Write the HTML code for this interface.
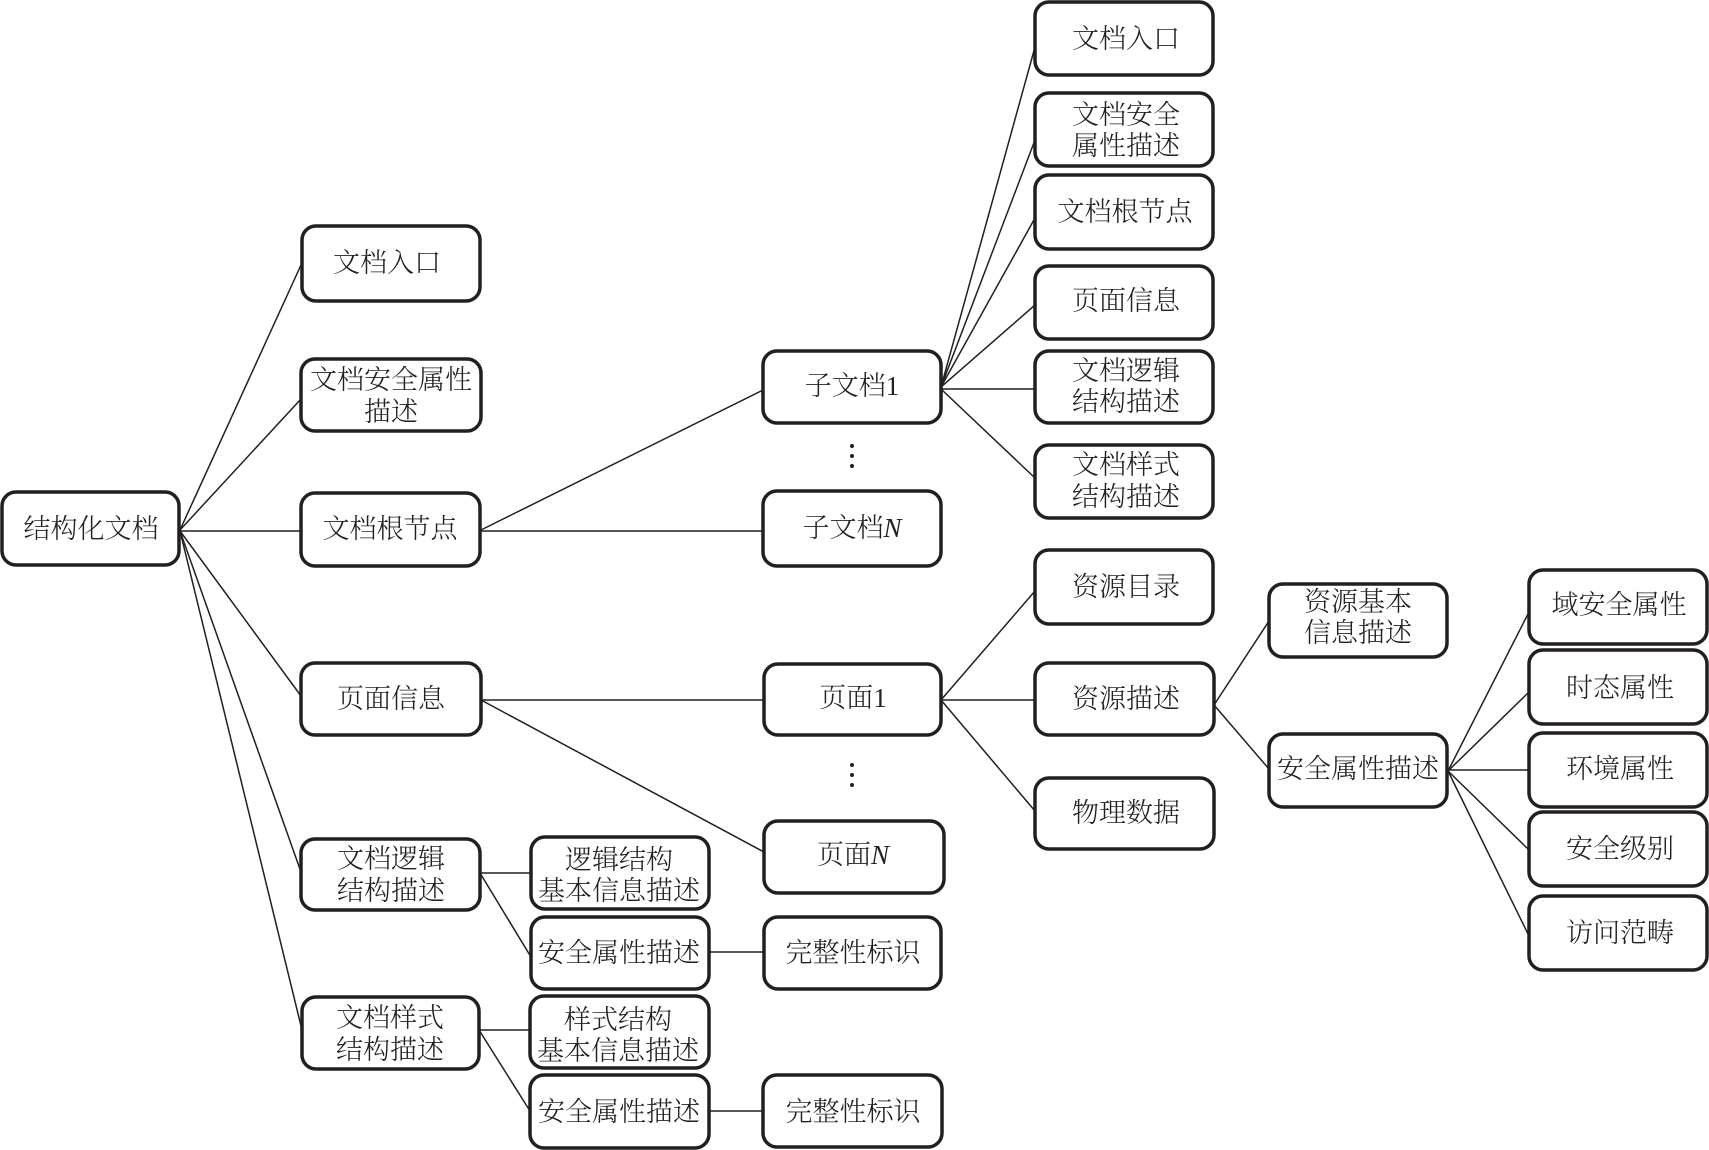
<!DOCTYPE html>
<html lang="zh">
<head>
<meta charset="utf-8">
<title>结构化文档</title>
<style>
html,body{margin:0;padding:0;background:#fff;width:1709px;height:1150px;overflow:hidden}
svg{display:block}
rect{fill:#fff;stroke:#231f20;stroke-width:3.5}
line{stroke:#231f20;stroke-width:1.5}
text{font-family:"Liberation Serif","Noto Serif CJK SC",serif;font-size:27px;font-weight:300;fill:#231f20;text-anchor:middle}
circle{fill:#231f20}
</style>
</head>
<body>
<svg width="1709" height="1150" viewBox="0 0 1709 1150" xmlns="http://www.w3.org/2000/svg">
<g>
<line x1="180" y1="530" x2="301" y2="265"/>
<line x1="180" y1="530" x2="301" y2="399"/>
<line x1="180" y1="531" x2="301" y2="531"/>
<line x1="180" y1="531" x2="301" y2="696"/>
<line x1="180" y1="531" x2="301" y2="872"/>
<line x1="180" y1="531" x2="302" y2="1030"/>
<line x1="481" y1="530" x2="763" y2="390"/>
<line x1="481" y1="531" x2="763" y2="531"/>
<line x1="481" y1="700" x2="764" y2="700"/>
<line x1="481" y1="700" x2="764" y2="852"/>
<line x1="941" y1="387" x2="1035" y2="47"/>
<line x1="941" y1="387" x2="1035" y2="140"/>
<line x1="941" y1="387" x2="1035" y2="218"/>
<line x1="941" y1="387" x2="1035" y2="305"/>
<line x1="941" y1="389" x2="1035" y2="389"/>
<line x1="941" y1="389" x2="1035" y2="478"/>
<line x1="941" y1="700" x2="1035" y2="591"/>
<line x1="941" y1="700" x2="1035" y2="700"/>
<line x1="941" y1="700" x2="1035" y2="811"/>
<line x1="1214" y1="705" x2="1269" y2="621"/>
<line x1="1214" y1="705" x2="1269" y2="769"/>
<line x1="1448" y1="771" x2="1529" y2="612"/>
<line x1="1448" y1="771" x2="1529" y2="692"/>
<line x1="1448" y1="770" x2="1529" y2="770"/>
<line x1="1448" y1="771" x2="1529" y2="850"/>
<line x1="1448" y1="771" x2="1529" y2="936"/>
<line x1="480" y1="873" x2="531" y2="873"/>
<line x1="480" y1="873" x2="531" y2="957"/>
<line x1="479" y1="1030" x2="530" y2="1030"/>
<line x1="479" y1="1030" x2="530" y2="1111"/>
<line x1="709" y1="952" x2="764" y2="952"/>
<line x1="709" y1="1111" x2="763" y2="1111"/>
</g>
<g>
<rect x="2" y="492" width="177" height="73" rx="14"/>
<rect x="302" y="226" width="178" height="75" rx="14"/>
<rect x="301" y="359" width="180" height="72" rx="14"/>
<rect x="301" y="493" width="179" height="73" rx="14"/>
<rect x="301" y="663" width="180" height="72" rx="14"/>
<rect x="301" y="839" width="179" height="71" rx="14"/>
<rect x="302" y="997" width="177" height="72" rx="14"/>
<rect x="531" y="837" width="178" height="72" rx="14"/>
<rect x="531" y="917" width="178" height="72" rx="14"/>
<rect x="764" y="917" width="177" height="72" rx="14"/>
<rect x="530" y="996" width="179" height="72" rx="14"/>
<rect x="530" y="1075" width="179" height="73" rx="14"/>
<rect x="763" y="1075" width="179" height="72" rx="14"/>
<rect x="763" y="351" width="178" height="72" rx="14"/>
<rect x="763" y="491" width="178" height="75" rx="14"/>
<rect x="764" y="664" width="177" height="71" rx="14"/>
<rect x="764" y="821" width="180" height="72" rx="14"/>
<rect x="1035" y="2" width="178" height="73" rx="14"/>
<rect x="1035" y="93" width="178" height="73" rx="14"/>
<rect x="1035" y="175" width="178" height="74" rx="14"/>
<rect x="1035" y="266" width="178" height="73" rx="14"/>
<rect x="1035" y="351" width="178" height="72" rx="14"/>
<rect x="1035" y="445" width="178" height="73" rx="14"/>
<rect x="1035" y="550" width="178" height="74" rx="14"/>
<rect x="1035" y="663" width="179" height="72" rx="14"/>
<rect x="1035" y="778" width="179" height="71" rx="14"/>
<rect x="1269" y="584" width="178" height="73" rx="14"/>
<rect x="1269" y="734" width="178" height="73" rx="14"/>
<rect x="1529" y="570" width="178" height="74" rx="14"/>
<rect x="1529" y="650" width="178" height="74" rx="14"/>
<rect x="1529" y="733" width="178" height="74" rx="14"/>
<rect x="1529" y="812" width="178" height="74" rx="14"/>
<rect x="1529" y="896" width="178" height="74" rx="14"/>
</g>
<g>
<text x="91" y="538">结构化文档</text>
<text x="387" y="272">文档入口</text>
<text x="391" y="389">文档安全属性</text>
<text x="391" y="421">描述</text>
<text x="390" y="538">文档根节点</text>
<text x="391" y="708">页面信息</text>
<text x="391" y="868">文档逻辑</text>
<text x="391" y="900">结构描述</text>
<text x="390" y="1027">文档样式</text>
<text x="390" y="1059">结构描述</text>
<text x="619" y="869">逻辑结构</text>
<text x="619" y="900">基本信息描述</text>
<text x="619" y="962">安全属性描述</text>
<text x="853" y="962">完整性标识</text>
<text x="618" y="1029">样式结构</text>
<text x="618" y="1060">基本信息描述</text>
<text x="619" y="1121">安全属性描述</text>
<text x="853" y="1121">完整性标识</text>
<text x="852" y="395">子文档1</text>
<text x="852" y="537">子文档<tspan font-style="italic">N</tspan></text>
<text x="853" y="707">页面1</text>
<text x="853" y="864">页面<tspan font-style="italic">N</tspan></text>
<text x="1126" y="48">文档入口</text>
<text x="1126" y="124">文档安全</text>
<text x="1126" y="155">属性描述</text>
<text x="1125" y="221">文档根节点</text>
<text x="1126" y="310">页面信息</text>
<text x="1126" y="380">文档逻辑</text>
<text x="1126" y="411">结构描述</text>
<text x="1126" y="474">文档样式</text>
<text x="1126" y="506">结构描述</text>
<text x="1126" y="596">资源目录</text>
<text x="1126" y="708">资源描述</text>
<text x="1126" y="822">物理数据</text>
<text x="1358" y="611">资源基本</text>
<text x="1358" y="642">信息描述</text>
<text x="1358" y="778">安全属性描述</text>
<text x="1619" y="614">域安全属性</text>
<text x="1620" y="697">时态属性</text>
<text x="1620" y="778">环境属性</text>
<text x="1620" y="858">安全级别</text>
<text x="1620" y="942">访问范畴</text>
</g>
<g>
<circle cx="852" cy="446" r="2"/><circle cx="852" cy="456" r="2"/><circle cx="852" cy="466" r="2"/>
<circle cx="852" cy="765" r="2"/><circle cx="852" cy="775" r="2"/><circle cx="852" cy="785" r="2"/>
</g>
</svg>
</body>
</html>
